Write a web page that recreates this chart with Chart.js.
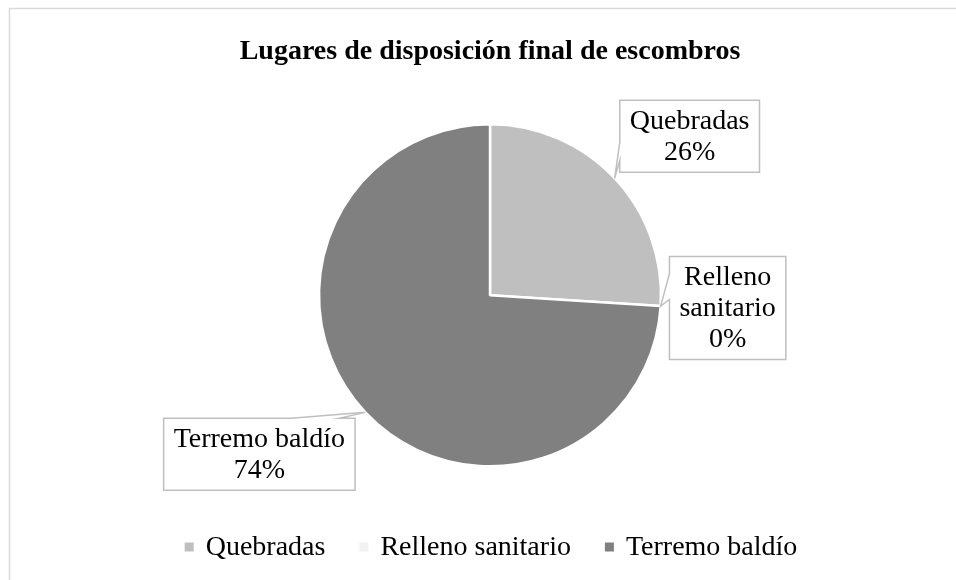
<!DOCTYPE html>
<html>
<head>
<meta charset="utf-8">
<script src="https://cdn.jsdelivr.net/npm/chart.js@4.4.1/dist/chart.umd.min.js"></script>
<style>
  html, body { margin: 0; padding: 0; background: #fff; }
  #wrap { width: 956px; height: 580px; }
</style>
</head>
<body>
<div id="wrap"><canvas id="c" width="956" height="580"></canvas></div>
<script>
const titleText = "Lugares de disposición final de escombros";
const labels = ["Quebradas", "Relleno sanitario", "Terremo baldío"];
const values = [26, 0, 74];
const colors = ["#bfbfbf", "#f2f2f2", "#808080"];

const serif = "'Liberation Serif', 'Times New Roman', serif";

// parte el texto en lineas segun un ancho maximo
function wrapText(ctx, text, maxW) {
  const words = text.split(" ");
  const out = [];
  let cur = "";
  for (const w of words) {
    const t = cur ? cur + " " + w : w;
    if (cur && ctx.measureText(t).width > maxW) {
      out.push(cur);
      cur = w;
    } else {
      cur = t;
    }
  }
  if (cur) out.push(cur);
  return out;
}

// marco gris del grafico
const framePlugin = {
  id: "frame",
  beforeDraw(chart) {
    const ctx = chart.ctx;
    ctx.save();
    ctx.fillStyle = "#fff";
    ctx.fillRect(0, 0, chart.width, chart.height);
    ctx.strokeStyle = "#d9d9d9";
    ctx.lineWidth = 1.5;
    ctx.strokeRect(9.5, 8.5, chart.width + 50, chart.height + 50);
    ctx.restore();
  },
};

// etiquetas tipo globo con flecha hacia cada sector
const calloutPlugin = {
  id: "callouts",
  afterDatasetsDraw(chart, args, opts) {
    const ctx = chart.ctx;
    const meta = chart.getDatasetMeta(0);
    const data = chart.data.datasets[0].data;
    const total = data.reduce((a, b) => a + b, 0);
    ctx.save();
    ctx.font = opts.font;
    meta.data.forEach((arc, i) => {
      const p = arc.getProps(["x", "y", "startAngle", "endAngle", "outerRadius"], true);
      const mid = (p.startAngle + p.endAngle) / 2;
      const tx = p.x + Math.cos(mid) * p.outerRadius;
      const ty = p.y + Math.sin(mid) * p.outerRadius;

      const lines = wrapText(ctx, chart.data.labels[i], opts.wrap[i]);
      lines.push(Math.round((data[i] / total) * 100) + "%");
      const tw = Math.max(...lines.map((l) => ctx.measureText(l).width));
      const w = tw + opts.padX * 2;
      const h = lines.length * opts.lineH + opts.padY * 2;
      const cx = tx + opts.offsets[i][0];
      const cy = ty + opts.offsets[i][1];
      const l = cx - w / 2, t = cy - h / 2, r = l + w, b = t + h;

      ctx.beginPath();
      const side = opts.sides[i];
      if (side === "left") {
        const y1 = t + (h * (ty > cy ? 7 : 2)) / 12;
        const y2 = t + (h * (ty > cy ? 10 : 5)) / 12;
        ctx.moveTo(l, t);
        ctx.lineTo(r, t);
        ctx.lineTo(r, b);
        ctx.lineTo(l, b);
        ctx.lineTo(l, y2);
        ctx.lineTo(tx, ty);
        ctx.lineTo(l, y1);
      } else {
        const x1 = l + (w * (tx > cx ? 8 : 2)) / 12;
        const x2 = l + (w * (tx > cx ? 11 : 5)) / 12;
        ctx.moveTo(l, t);
        ctx.lineTo(x1, t);
        ctx.lineTo(tx, ty);
        ctx.lineTo(x2, t);
        ctx.lineTo(r, t);
        ctx.lineTo(r, b);
        ctx.lineTo(l, b);
      }
      ctx.closePath();
      ctx.fillStyle = "#fff";
      ctx.fill();
      ctx.strokeStyle = "#bfbfbf";
      ctx.lineWidth = 1.5;
      ctx.stroke();

      ctx.fillStyle = "#000";
      ctx.textAlign = "center";
      ctx.textBaseline = "middle";
      lines.forEach((ln, k) => {
        ctx.fillText(ln, cx, t + opts.padY + opts.lineH * (k + 0.5) + 1);
      });
    });
    ctx.restore();
  },
};

// leyenda inferior
const legendPlugin = {
  id: "bottomLegend",
  afterDraw(chart, args, opts) {
    const ctx = chart.ctx;
    const ds = chart.data.datasets[0];
    ctx.save();
    ctx.font = opts.font;
    const widths = chart.data.labels.map((l) => ctx.measureText(l).width);
    let total = 0;
    widths.forEach((w, i) => {
      total += opts.box + opts.gap + w + (i < widths.length - 1 ? opts.spacing : 0);
    });
    let x = opts.cx - total / 2;
    ctx.textBaseline = "middle";
    ctx.textAlign = "left";
    chart.data.labels.forEach((lab, i) => {
      ctx.fillStyle = ds.backgroundColor[i];
      ctx.fillRect(x, opts.y - opts.box / 2, opts.box, opts.box);
      ctx.fillStyle = "#000";
      ctx.fillText(lab, x + opts.box + opts.gap, opts.y + 1);
      x += opts.box + opts.gap + widths[i] + opts.spacing;
    });
    ctx.restore();
  },
};

new Chart(document.getElementById("c"), {
  type: "pie",
  data: {
    labels: labels,
    datasets: [{
      data: values,
      backgroundColor: colors,
      borderColor: "#ffffff",
      borderWidth: 2.5,
      radius: 171,
    }],
  },
  options: {
    responsive: false,
    animation: false,
    layout: { padding: { left: 24, right: 0, top: 0, bottom: 68 } },
    plugins: {
      legend: { display: false },
      tooltip: { enabled: false },
      title: {
        display: true,
        text: titleText,
        color: "#000",
        font: { family: serif, size: 28, weight: "bold" },
        padding: { top: 35, bottom: 10 },
      },
      callouts: {
        font: "28px " + serif,
        lineH: 31,
        padX: 10,
        padY: 5,
        wrap: [200, 120, 220],
        sides: ["left", "left", "top"],
        offsets: [[75, -42], [67, 2], [-106, 42]],
      },
      bottomLegend: {
        font: "28px " + serif,
        box: 9,
        gap: 12,
        spacing: 34,
        cx: 491,
        y: 547,
      },
    },
  },
  plugins: [framePlugin, calloutPlugin, legendPlugin],
});
</script>
</body>
</html>
